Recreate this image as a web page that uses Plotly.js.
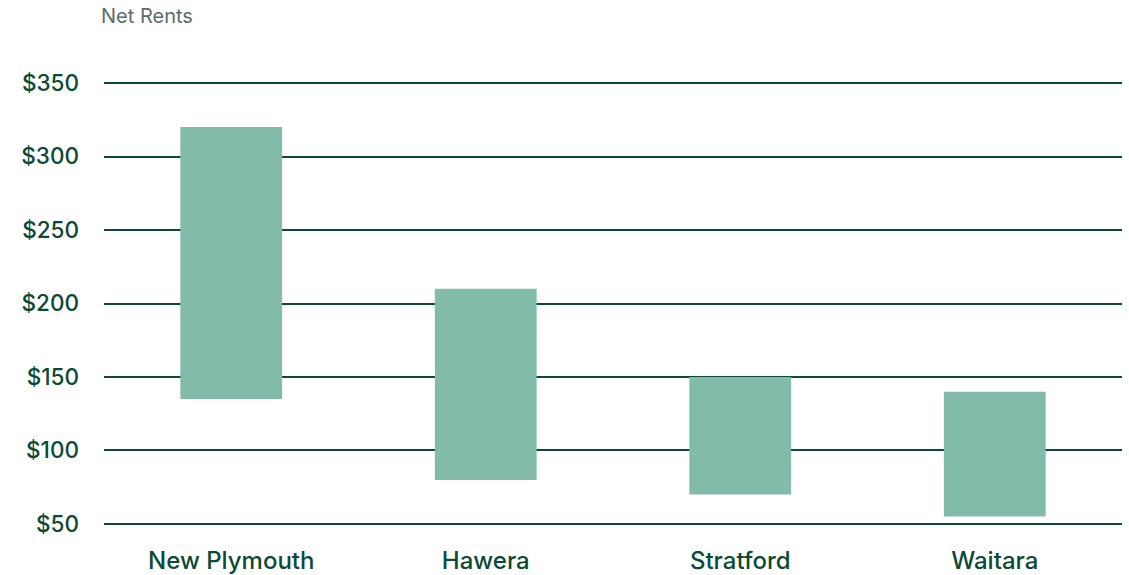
<!DOCTYPE html>
<html>
<head>
<meta charset="utf-8">
<script src="https://cdn.plot.ly/plotly-3.0.1.min.js"></script>
<style>html,body{margin:0;padding:0;background:#fff;}#chart{width:1129px;height:575px;}</style>
</head>
<body>
<div id="chart"></div>
<script>
var towns = ["New Plymouth", "Hawera", "Stratford", "Waitara"];
var rentLow = [135, 80, 70, 55];
var rentHigh = [320, 210, 150, 140];
var tickVals = [50, 100, 150, 200, 250, 300, 350];
var tickText = ["$50", "$100", "$150", "$200", "$250", "$300", "$350"];

var spans = rentHigh.map(function (h, i) { return h - rentLow[i]; });
var green = "#0c4a35";

var trace = {
  type: "bar",
  x: towns,
  y: spans,
  base: rentLow,
  width: 0.4,
  marker: { color: "#83bbab", line: { width: 0 } },
  hoverinfo: "none"
};

var layout = {
  width: 1129,
  height: 575,
  margin: { l: 104, r: 7, t: 82, b: 50 },
  paper_bgcolor: "#ffffff",
  plot_bgcolor: "#ffffff",
  showlegend: false,
  font: { family: "Inter, Roboto, sans-serif", color: green },
  title: {
    text: "Net Rents",
    xref: "container", yref: "container",
    x: 101 / 1129, xanchor: "left",
    y: 1 - 16 / 575, yanchor: "middle",
    font: { family: "Inter, Roboto, sans-serif", size: 20, color: "#5d6b67" }
  },
  xaxis: {
    showgrid: false, zeroline: false, showline: false,
    ticks: "", tickfont: { size: 24, color: green, weight: 500 },
    ticklabelstandoff: 19
  },
  yaxis: {
    range: [49.3, 350.7],
    tickvals: tickVals, ticktext: tickText,
    showgrid: true, gridcolor: green, gridwidth: 2,
    zeroline: false, showline: false, ticks: "",
    tickfont: { size: 22.5, color: green, weight: 500 },
    ticklabelstandoff: 24
  },
  bargap: 0.6
};

Plotly.newPlot("chart", [trace], layout, { displayModeBar: false, staticPlot: true });
</script>
</body>
</html>
